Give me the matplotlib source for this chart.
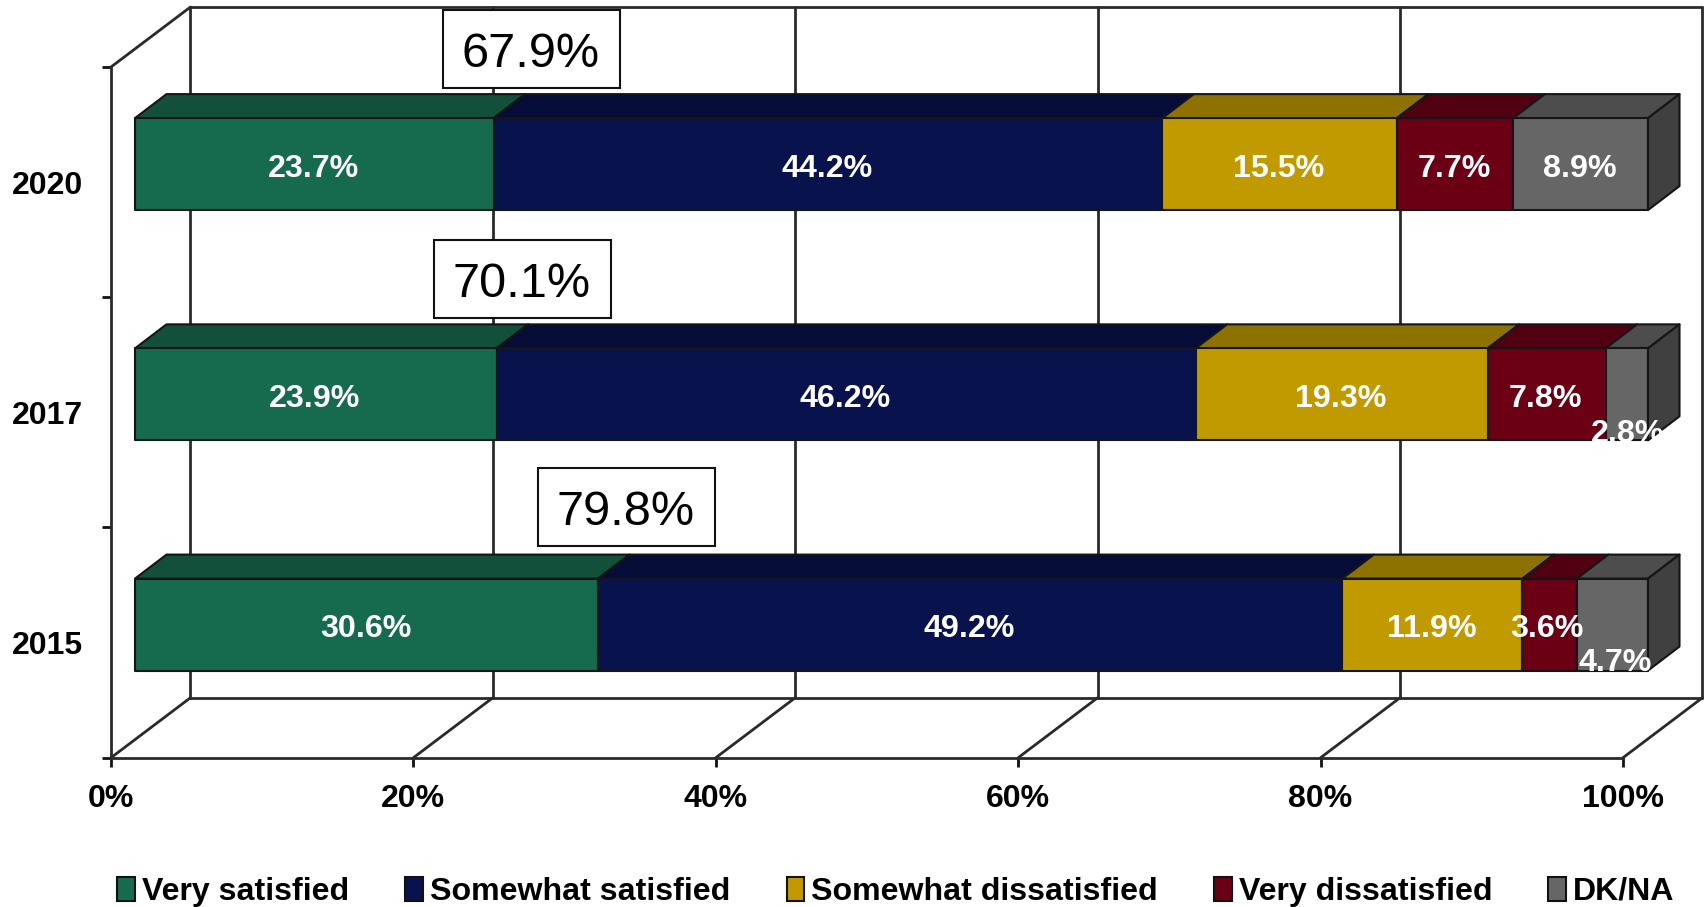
import matplotlib
matplotlib.use("Agg")
import matplotlib.pyplot as plt
from matplotlib.patches import Polygon, Rectangle, Patch

plt.rcParams['font.family'] = ['Liberation Sans', 'DejaVu Sans']

# ---- data ----
years = ['2015', '2017', '2020']
series_names = ['Very satisfied', 'Somewhat satisfied', 'Somewhat dissatisfied',
                'Very dissatisfied', 'DK/NA']
very_satisfied = [30.6, 23.9, 23.7]
somewhat_satisfied = [49.2, 46.2, 44.2]
somewhat_dissatisfied = [11.9, 19.3, 15.5]
very_dissatisfied = [3.6, 7.8, 7.7]
dk_na = [4.7, 2.8, 8.9]
total_satisfied = ['79.8%', '70.1%', '67.9%']
x_ticks = [0, 20, 40, 60, 80, 100]

# ---- style ----
front = ['#166A4E', '#08134D', '#C19A00', '#6B0015', '#666666']
top = ['#13503C', '#060C38', '#8E7200', '#500010', '#4D4D4D']
side = '#404040'
edge = '#151515'
line = '#2A2A2A'
W, H = 1706, 907
L_px, R_px, T_px, B_px = 111, 1623, 67, 757.7
px_x = (R_px - L_px) / 100        # pixels per percent
px_y = (B_px - T_px) / 3          # pixels per category
wall_dx, wall_dy = 79.5 / px_x, 60 / px_y
bar_off_x, bar_off_y = 24 / px_x, 18 / px_y
bar_half = 46 / px_y
bar_dx, bar_dy = 31.5 / px_x, 24 / px_y
bar_scale = 1513 / (R_px - L_px)
callout_x = [34.1, 27.2, 27.8]
callout_rise_px = [135.5, 133, 133]
callout_w, callout_h = 177 / px_x, 78 / px_y
label_drop_px = 4.4
# (series index, year index): nudges of labels, in pixels
label_nudge = {(4, 1): (1, -34.8), (4, 0): (3, -33.8), (3, 0): (-3, 0)}

fig = plt.figure(figsize=(W / 100, H / 100), dpi=100, facecolor='white')
ax = fig.add_axes([L_px / W, 1 - B_px / H, (R_px - L_px) / W, (B_px - T_px) / H])
ax.patch.set_visible(False)
ax.set_xlim(0, 100)
ax.set_ylim(0, 3)

for s in ('top', 'right'):
    ax.spines[s].set_visible(False)
for s in ('left', 'bottom'):
    ax.spines[s].set_color(line)
    ax.spines[s].set_linewidth(2.0)

# walls and floor
lk = dict(color=line, lw=2.0, clip_on=False, zorder=1, solid_capstyle='round')
for t in x_ticks:
    ax.plot([t + wall_dx, t + wall_dx], [wall_dy, 3 + wall_dy], **lk)
    ax.plot([t, t + wall_dx], [0, wall_dy], **lk)
ax.plot([wall_dx, 100 + wall_dx], [wall_dy, wall_dy], **lk)
ax.plot([wall_dx, 100 + wall_dx], [3 + wall_dy, 3 + wall_dy], **lk)
ax.plot([0, wall_dx], [3, 3 + wall_dy], **lk)

# bars
table = [very_satisfied, somewhat_satisfied, somewhat_dissatisfied, very_dissatisfied, dk_na]
for yi in range(len(years)):
    yc = yi + 0.5 + bar_off_y
    y0, y1 = yc - bar_half, yc + bar_half
    start = 0.0
    for si, vals in enumerate(table):
        v = vals[yi]
        x0 = bar_off_x + start * bar_scale
        x1 = bar_off_x + (start + v) * bar_scale
        pk = dict(ec=edge, lw=1.5, joinstyle='round', clip_on=False, zorder=3)
        ax.add_patch(Polygon([(x0, y1), (x1, y1), (x1 + bar_dx, y1 + bar_dy), (x0 + bar_dx, y1 + bar_dy)],
                             fc=top[si], **pk))
        ax.add_patch(Polygon([(x0, y0), (x1, y0), (x1, y1), (x0, y1)], fc=front[si], **pk))
        if si == len(table) - 1:
            ax.add_patch(Polygon([(x1, y0), (x1 + bar_dx, y0 + bar_dy), (x1 + bar_dx, y1 + bar_dy), (x1, y1)],
                                 fc=side, **pk))
        nx, ny = label_nudge.get((si, yi), (-1, 0))
        ax.text((x0 + x1) / 2 + nx / px_x, yc + (ny - label_drop_px) / px_y, f'{v:.1f}%', color='white',
                fontsize=23.2, fontweight='bold', ha='center', va='center', zorder=6, clip_on=False)
        start += v
    # callout
    cx, cy = callout_x[yi], yi + 0.5 + callout_rise_px[yi] / px_y
    ax.add_patch(Rectangle((cx - callout_w / 2, cy - callout_h / 2), callout_w, callout_h,
                           fc='white', ec='#111111', lw=1.5, clip_on=False, zorder=4))
    ax.text(cx - 1 / px_x, cy - 5 / px_y, total_satisfied[yi], color='black', fontsize=35,
            ha='center', va='center', zorder=5, clip_on=False)

# axes ticks
ax.set_xticks(x_ticks)
ax.set_xticklabels([f'{t}%' for t in x_ticks], fontsize=23, fontweight='bold')
ax.tick_params(axis='x', length=6.5, width=2.0, color='#111111', pad=12.5)
ax.set_yticks([0, 1, 2, 3])
ax.set_yticklabels([])
ax.tick_params(axis='y', which='major', length=6.5, width=2.0, color='#111111')
ax.set_yticks([0.5, 1.5, 2.5], minor=True)
ax.set_yticklabels(years, minor=True, fontsize=23, fontweight='bold')
ax.tick_params(axis='y', which='minor', length=0, pad=20)

# legend
handles = [Patch(fc=c, ec='#111111', lw=1.5) for c in front]
fig.legend(handles, series_names, loc='center', bbox_to_anchor=(896 / W, 1 - 892 / H), ncol=5,
           frameon=False, prop={'size': 23.1, 'weight': 'bold'}, handlelength=0.55, handleheight=0.75,
           handletextpad=0.22, columnspacing=1.75, borderpad=0, borderaxespad=0)

fig.savefig('out.png', dpi=100, facecolor='white')
